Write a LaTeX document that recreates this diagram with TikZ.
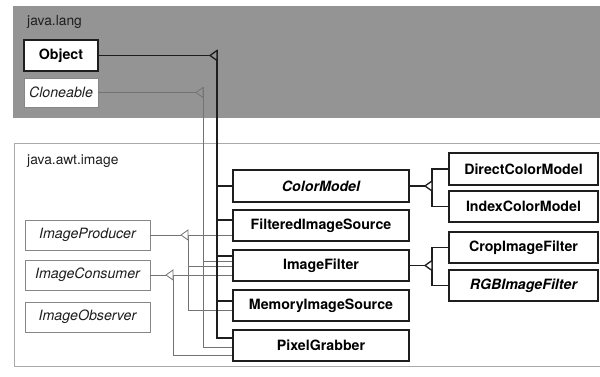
\documentclass[tikz,border=0pt]{standalone}
\usepackage{fontspec}
\setmainfont{TeX Gyre Heros}
\definecolor{bandgray}{RGB}{148,148,148}
\definecolor{boxdark}{RGB}{30,30,30}
\definecolor{thingray}{RGB}{135,135,135}
\definecolor{linegray}{RGB}{115,115,115}
\definecolor{panelgray}{RGB}{170,170,170}
\definecolor{textgray}{RGB}{30,30,30}
\tikzset{
  classbox/.style={draw=boxdark, line width=1.4pt, fill=white, inner sep=0pt,
    minimum height=31pt, text=black, font=\fontsize{14.2}{16}\selectfont\bfseries},
  ifacebox/.style={draw=thingray, line width=0.8pt, fill=white, inner sep=0pt,
    minimum height=30pt, text=textgray, font=\fontsize{14.2}{16}\selectfont\itshape},
  heavy/.style={draw=boxdark, line width=1.3pt},
  light/.style={draw=linegray, line width=0.8pt},
  pkglabel/.style={anchor=west, inner sep=0pt, text=textgray,
    font=\fontsize{13.8}{16}\selectfont}
}
% open generalization triangle: tip at #1, pointing left
\newcommand{\gentri}[3]{\filldraw[#2, fill=#3, line join=miter] (#1) -- ++(7,-5) -- ++(0,10) -- cycle;}
\begin{document}
\begin{tikzpicture}[x=1pt,y=-1pt]
\useasboundingbox (0,0) rectangle (600,377);

% package areas
\fill[bandgray] (13,6) rectangle (600,118);
\draw[panelgray, line width=0.9pt] (600,143) -- (14,143) -- (14,366) -- (600,366);
\node[pkglabel] (langlbl) at (27,22) {java.lang};
\node[pkglabel] (awtlbl) at (27,161) {java.awt.image};

% java.lang
\node[classbox, minimum width=74pt] (object) at (61,55.5) {Object};
\node[ifacebox, minimum width=74pt, minimum height=29pt] (cloneable) at (61,92.5) {Cloneable};

% interfaces of java.awt.image
\node[ifacebox, minimum width=125pt] (producer) at (87.5,235) {ImageProducer};
\node[ifacebox, minimum width=125pt] (consumer) at (87.5,275) {ImageConsumer};
\node[ifacebox, minimum width=125pt] (observer) at (87.5,317) {ImageObserver};

% classes of java.awt.image
\node[classbox, minimum width=176pt, minimum height=32pt] (colormodel) at (321,186) {\itshape ColorModel};
\node[classbox, minimum width=176pt] (filtersrc) at (321,225.5) {FilteredImageSource};
\node[classbox, minimum width=176pt] (imgfilter) at (321,265.5) {ImageFilter};
\node[classbox, minimum width=176pt] (memsrc) at (321,305.5) {MemoryImageSource};
\node[classbox, minimum width=176pt] (grabber) at (321,345.5) {PixelGrabber};

\node[classbox, minimum width=149pt, minimum height=32pt] (directcm) at (523.5,169) {DirectColorModel};
\node[classbox, minimum width=149pt] (indexcm) at (523.5,206.5) {IndexColorModel};
\node[classbox, minimum width=149pt] (cropf) at (523.5,247.5) {CropImageFilter};
\node[classbox, minimum width=149pt] (rgbf) at (523.5,285.5) {\itshape RGBImageFilter};

% bus points
\coordinate (objtip) at (210,55.5);
\coordinate (objbus) at (217,55.5);
\coordinate (clntip) at (196,92.5);
\coordinate (clnbus) at (203,92.5);
\coordinate (prdtip) at (181,235);
\coordinate (prdbus) at (188,235);
\coordinate (cnstip) at (166,275);
\coordinate (cnsbus) at (173,275);
\coordinate (cmtip) at (425,186);
\coordinate (cmbus) at (432,186);
\coordinate (iftip) at (425,265.5);
\coordinate (ifbus) at (432,265.5);

% entry points on the west sides of the classes
\coordinate (fsObj) at ([yshift=5.5pt]filtersrc.west);
\coordinate (ifObj) at ([yshift=9.5pt]imgfilter.west);
\coordinate (ifCln) at ([yshift=4pt]imgfilter.west);
\coordinate (ifPrd) at ([yshift=-1pt]imgfilter.west);
\coordinate (msObj) at ([yshift=4.5pt]memsrc.west);
\coordinate (msPrd) at ([yshift=-4.5pt]memsrc.west);
\coordinate (pgObj) at ([yshift=7.5pt]grabber.west);
\coordinate (pgCln) at ([yshift=-1.5pt]grabber.west);
\coordinate (pgCns) at ([yshift=-9.5pt]grabber.west);

% Cloneable
\draw[light] (cloneable.east) -- (clntip);
\draw[light] ([yshift=5pt]clnbus) |- (pgCln);
\draw[light] (clnbus |- ifCln) -- (ifCln);
\gentri{clntip}{light}{bandgray}

% ImageProducer
\draw[light] (producer.east) -- (prdtip);
\draw[light] (prdbus) -- (filtersrc.west |- prdbus);
\draw[light] (prdbus) |- (msPrd);
\draw[light] (prdbus |- ifPrd) -- (ifPrd);
\gentri{prdtip}{light}{white}

% ImageConsumer
\draw[light] (consumer.east) -- (cnstip);
\draw[light] (cnsbus) -- (imgfilter.west |- cnsbus);
\draw[light] (cnsbus) |- (pgCns);
\gentri{cnstip}{light}{white}

% Object
\draw[heavy] (object.east) -- (objtip);
\draw[heavy] ([yshift=5pt]objbus) |- (pgObj);
\draw[heavy] (objbus |- colormodel.west) -- (colormodel.west);
\draw[heavy] (objbus |- fsObj) -- (fsObj);
\draw[heavy] (objbus |- ifObj) -- (ifObj);
\draw[heavy] (objbus |- msObj) -- (msObj);
\gentri{objtip}{heavy}{bandgray}

% ColorModel subclasses
\draw[heavy] (colormodel.east) -- (cmtip);
\draw[heavy] (directcm.west) -| (cmbus) |- (indexcm.west);
\gentri{cmtip}{heavy}{white}

% ImageFilter subclasses
\draw[heavy] (imgfilter.east) -- (iftip);
\draw[heavy] (cropf.west) -| (ifbus) |- (rgbf.west);
\gentri{iftip}{heavy}{white}
\end{tikzpicture}
\end{document}
